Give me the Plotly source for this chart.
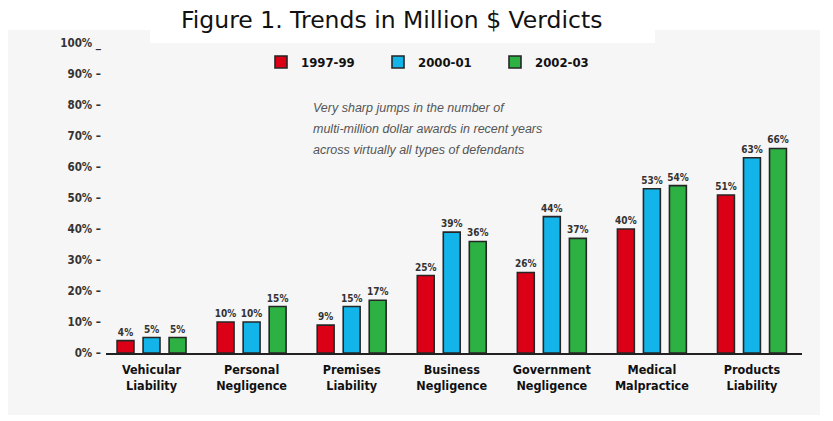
import plotly.graph_objects as go

categories = ["Vehicular<br>Liability", "Personal<br>Negligence", "Premises<br>Liability",
              "Business<br>Negligence", "Government<br>Negligence", "Medical<br>Malpractice",
              "Products<br>Liability"]
series_names = ["1997-99", "2000-01", "2002-03"]
v_1997_99 = [4, 10, 9, 25, 26, 40, 51]
v_2000_01 = [5, 10, 15, 39, 44, 53, 63]
v_2002_03 = [5, 15, 17, 36, 37, 54, 66]
colors = ["#dc0016", "#12b4ea", "#2db142"]
y_ticks = [0, 10, 20, 30, 40, 50, 60, 70, 80, 90, 100]
y_ticktext = [f"{t}% \u2013" if t < 100 else "100% _" for t in y_ticks]
note_lines = ["Very sharp jumps in the number of",
              "multi-million dollar awards in recent years",
              "across virtually all types of defendants"]
title_text = "Figure 1. Trends in Million $ Verdicts"

cond = "Liberation Sans Narrow, DejaVu Sans Condensed, Arial Narrow, sans-serif"

fig = go.Figure()
x_idx = list(range(len(categories)))
for name, vals, col in zip(series_names, [v_1997_99, v_2000_01, v_2002_03], colors):
    fig.add_trace(go.Bar(
        x=x_idx, y=vals, name=name,
        marker=dict(color=col, line=dict(color="#262626", width=1.6)),
        text=[f"{v}%" for v in vals], textposition="outside",
        textfont=dict(family=cond, size=10, color="#333333", weight="bold"),
        constraintext="none", textangle=0,
        cliponaxis=False,
    ))

W, H = 833, 421
L, R, T, B = 106, 833 - 802, 40, 68
PW, PH = W - L - R, H - T - B

shapes = [
    dict(type="rect", xref="paper", yref="paper", layer="below",
         x0=(8 - L) / PW, x1=(820 - L) / PW,
         y0=-(415 - (H - B)) / PH, y1=1 + (T - 30) / PH,
         fillcolor="#f6f6f6", line=dict(width=0)),
    dict(type="rect", xref="paper", yref="paper", layer="below",
         x0=(150 - L) / PW, x1=(655 - L) / PW,
         y0=1 + (T - 43) / PH, y1=1 + T / PH,
         fillcolor="#ffffff", line=dict(width=0)),
]

annotations = []
for i, line in enumerate(note_lines):
    annotations.append(dict(
        text=line, xref="paper", yref="paper",
        x=(311 - L) / PW, xanchor="left",
        y=1 - (108 + i * 21 - T) / PH, yanchor="middle",
        showarrow=False,
        font=dict(family="Liberation Sans, Arial, sans-serif", size=12.5,
                  color="#555555", style="italic"),
    ))
annotations.append(dict(
    text=title_text, xref="paper", yref="paper",
    x=(391 - L) / PW, xanchor="center",
    y=1 + (T - 20) / PH, yanchor="middle", showarrow=False,
    font=dict(family="DejaVu Sans, Verdana, sans-serif", size=23.5, color="#111111"),
))

fig.update_layout(
    width=W, height=H,
    margin=dict(l=L, r=R, t=T, b=B),
    paper_bgcolor="#ffffff", plot_bgcolor="rgba(0,0,0,0)",
    barmode="group", bargap=0.22, bargroupgap=0.35,
    showlegend=True,
    legend=dict(orientation="h", x=(261 - L) / PW, xanchor="left",
                y=1 - (62 - T) / PH, yanchor="middle",
                bgcolor="rgba(0,0,0,0)", entrywidth=72, itemwidth=30,
                font=dict(family=cond, size=13, color="#111111", weight="bold"),
                traceorder="normal"),
    shapes=shapes, annotations=annotations,
    xaxis=dict(tickmode="array", tickvals=x_idx, ticktext=categories,
               range=[-0.455, 6.5], showgrid=False, zeroline=False,
               showline=True, linecolor="#222222", linewidth=1.5, ticks="",
               tickfont=dict(family=cond, size=12.5, color="#111111", weight="bold"),
               ticklabelstandoff=4),
    yaxis=dict(tickmode="array", tickvals=y_ticks, ticktext=y_ticktext,
               range=[0, 101], showgrid=False, zeroline=False, showline=False,
               ticks="", tickfont=dict(family=cond, size=11.5, color="#333333", weight="bold"),
               ticklabelstandoff=4),
)

fig.write_html("out.html")
